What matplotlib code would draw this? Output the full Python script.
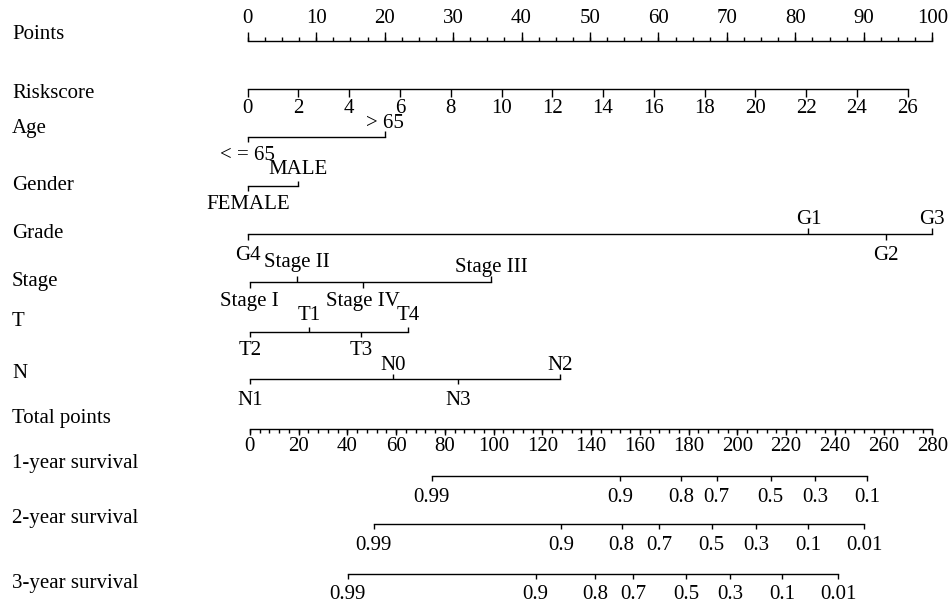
import numpy as np
import matplotlib
matplotlib.use("Agg")
import matplotlib.pyplot as plt

plt.rcParams["font.family"] = ["Liberation Serif", "DejaVu Serif"]

# ---- data (points scale 0-100) ----
points_ticks = np.arange(0, 101, 10)
points_minor = np.arange(0, 100.1, 2.5)

riskscore_ticks = np.arange(0, 27, 2)
riskscore_max_points = 96.4          # points at riskscore = 26
riskscore_max = 26

age_levels = ["< = 65", "> 65"]
age_points = [0.0, 20.0]

gender_levels = ["FEMALE", "MALE"]
gender_points = [0.0, 7.4]

grade_levels = ["G4", "G1", "G2", "G3"]
grade_points = [0.0, 81.9, 93.2, 100.0]

stage_levels = ["Stage I", "Stage II", "Stage IV", "Stage III"]
stage_points = [0.3, 7.2, 16.9, 35.6]

t_levels = ["T2", "T1", "T3", "T4"]
t_points = [0.3, 9.0, 16.6, 23.4]

n_levels = ["N1", "N0", "N3", "N2"]
n_points = [0.3, 21.2, 30.7, 45.6]

total_ticks = np.arange(0, 281, 20)
total_minor = np.arange(0, 281, 4)
total_max = 280

surv1_probs = ["0.99", "0.9", "0.8", "0.7", "0.5", "0.3", "0.1"]
surv1_total = [74.7, 152.0, 176.9, 191.5, 213.7, 231.9, 253.2]

surv2_probs = ["0.99", "0.9", "0.8", "0.7", "0.5", "0.3", "0.1", "0.01"]
surv2_total = [50.9, 127.8, 152.6, 168.0, 189.5, 207.6, 229.1, 252.0]

surv3_probs = ["0.99", "0.9", "0.8", "0.7", "0.5", "0.3", "0.1", "0.01"]
surv3_total = [40.2, 117.3, 141.8, 157.4, 179.0, 197.2, 218.5, 241.5]

row_names = ["Points", "Riskscore", "Age", "Gender", "Grade", "Stage", "T", "N",
             "Total points", "1-year survival", "2-year survival", "3-year survival"]

# ---- layout (pixel rows, figure 953 x 608) ----
W, H = 953, 608
X0_PX, PX_PER_PT = 247.7, 6.846
TOT_X0 = 0.3
FS = 15
LW = 1.0

row_label_y = [39.3, 98.3, 133.3, 190.0, 238.3, 285.7, 326.0, 378.3,
               423.3, 467.7, 523.3, 587.7]

fig = plt.figure(figsize=(W / 100, H / 100), dpi=100)
ax = fig.add_axes([0, 0, 1, 1])
ax.set_xlim(-X0_PX / PX_PER_PT, (W - X0_PX) / PX_PER_PT)
ax.set_ylim(H, 0)
ax.axis("off")


def tot2pts(t):
    return TOT_X0 + np.asarray(t, dtype=float) * (100 - TOT_X0) / total_max


def txt(x, y, s, ha="center"):
    ax.text(x, y, s, ha=ha, va="baseline", fontsize=FS, color="black")


for name, y in zip(row_names, row_label_y):
    ax.text(-X0_PX / PX_PER_PT + 12 / PX_PER_PT, y, name, ha="left",
            va="baseline", fontsize=FS)

# Points axis (ticks up, labels above)
y = 40.7
ax.plot([0, 100], [y, y], color="black", lw=LW)
ax.vlines(points_minor, y - 4.2, y, color="black", lw=LW)
ax.vlines(points_ticks, y - 8.5, y, color="black", lw=LW)
for v in points_ticks:
    txt(v, 23.3, str(v))

# Riskscore axis (ticks down, labels below)
y = 89.3
rs_x = riskscore_ticks * riskscore_max_points / riskscore_max
ax.plot([0, rs_x[-1]], [y, y], color="black", lw=LW)
ax.vlines(rs_x, y, y + 8, color="black", lw=LW)
for v, xv in zip(riskscore_ticks, rs_x):
    txt(xv, 113.3, str(v))

# categorical rows: (levels, points, line y, above baseline, below baseline, tick len)
cat_rows = [
    (age_levels, age_points, 136.7, 128.3, 160.0, 5.5),
    (gender_levels, gender_points, 186.0, 174.0, 208.7, 5.0),
    (grade_levels, grade_points, 234.3, 223.5, 260.3, 6.0),
    (stage_levels, stage_points, 282.3, 266.7, 306.0, 6.0),
    (t_levels, t_points, 331.7, 320.0, 355.0, 5.0),
    (n_levels, n_points, 379.3, 369.7, 405.0, 5.0),
]
nudge = {"Stage III": 5.0}

for levels, pts, y, y_up, y_dn, tl in cat_rows:
    order = np.argsort(pts)
    ax.plot([min(pts), max(pts)], [y, y], color="black", lw=LW)
    for k, i in enumerate(order):
        above = k % 2 == 1
        if above:
            ax.vlines(pts[i], y - tl, y, color="black", lw=LW)
            txt(pts[i], y_up + nudge.get(levels[i], 0), levels[i])
        else:
            ax.vlines(pts[i], y, y + tl, color="black", lw=LW)
            txt(pts[i], y_dn, levels[i])

# Total points axis
y = 429.0
ax.plot(tot2pts([0, total_max]), [y, y], color="black", lw=LW)
ax.vlines(tot2pts(total_minor), y, y + 3.5, color="black", lw=LW)
ax.vlines(tot2pts(total_ticks), y, y + 6, color="black", lw=LW)
for v in total_ticks:
    txt(tot2pts(v), 451.0, str(v))

# survival axes
for probs, tots, y, yl in [(surv1_probs, surv1_total, 475.7, 501.7),
                           (surv2_probs, surv2_total, 524.0, 550.0),
                           (surv3_probs, surv3_total, 574.3, 599.3)]:
    xs = tot2pts(tots)
    ax.plot([xs.min(), xs.max()], [y, y], color="black", lw=LW)
    ax.vlines(xs, y, y + 5, color="black", lw=LW)
    for p, xv in zip(probs, xs):
        txt(xv, yl, p)

fig.savefig("out.png", dpi=100)
plt.close(fig)
